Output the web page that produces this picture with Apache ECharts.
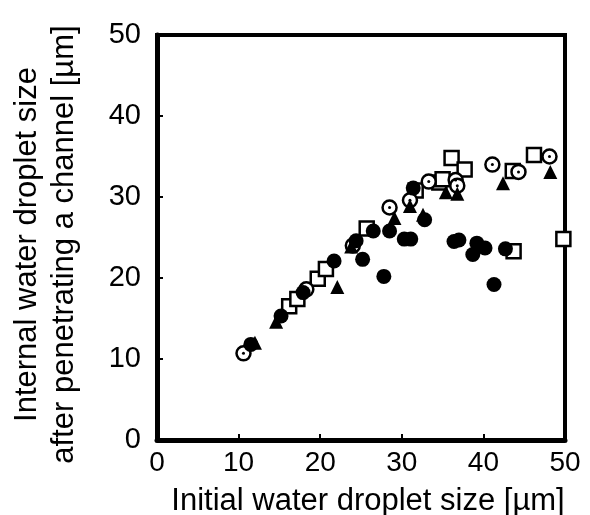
<!DOCTYPE html>
<html>
<head>
<meta charset="utf-8">
<script src="https://cdn.jsdelivr.net/npm/echarts@6/dist/echarts.min.js"></script>
<style>html,body{margin:0;padding:0;background:#fff}#c{width:590px;height:515px}</style>
</head>
<body>
<div id="c"></div>
<script>
const xTicks = [0, 10, 20, 30, 40, 50];
const yTicks = [0, 10, 20, 30, 40, 50];
const xTitle = 'Initial water droplet size [\u00b5m]';
const yTitle = ['Internal water droplet size', 'after penetrating a channel [\u00b5m]'];

const openCircles = [
  [10.6, 10.7], [18.3, 18.6], [24.0, 24.0], [28.5, 28.7], [31.0, 29.6], [33.3, 31.9],
  [36.6, 32.1], [36.8, 31.4], [41.1, 34.0], [44.3, 33.1], [48.1, 35.0]
];
const filledCircles = [
  [11.5, 11.8], [15.2, 15.3], [17.9, 18.2], [21.7, 22.1], [24.4, 24.6], [25.2, 22.3],
  [26.5, 25.8], [27.8, 20.2], [28.5, 25.8], [30.3, 24.8], [31.1, 24.8], [31.4, 31.1],
  [32.8, 27.2], [36.4, 24.5], [37.0, 24.7], [38.7, 22.9], [39.2, 24.3], [40.2, 23.7],
  [41.3, 19.2], [42.7, 23.6]
];
const openSquares = [
  [16.2, 16.5], [17.2, 17.4], [19.7, 19.9], [20.7, 21.1], [25.7, 26.1], [31.7, 30.8],
  [34.6, 31.8], [35.0, 32.2], [36.1, 34.8], [37.7, 33.4], [43.6, 33.2], [43.7, 23.3],
  [46.2, 35.2], [49.8, 24.8]
];
const triangles = [
  [12.0, 12.0], [14.6, 14.6], [22.1, 18.9], [23.8, 23.9], [29.1, 27.4], [31.0, 28.9],
  [32.6, 27.8], [35.4, 30.6], [36.8, 30.4], [42.4, 31.7], [48.2, 33.1]
];

const font = 'Liberation Sans, Arial, sans-serif';
const chart = echarts.init(document.getElementById('c'));
chart.setOption({
  animation: false,
  backgroundColor: '#fff',
  grid: {
    left: 157, right: 25, top: 35, bottom: 75,
    outerBoundsMode: 'none', containLabel: false,
    show: true, borderColor: '#000', borderWidth: 4, backgroundColor: 'transparent'
  },
  xAxis: {
    type: 'value', min: xTicks[0], max: xTicks[xTicks.length - 1], interval: 10,
    name: xTitle, nameLocation: 'middle', nameGap: 46,
    nameTextStyle: { fontFamily: font, fontSize: 31, color: '#000', padding: [0, 0, 0, 14] },
    axisLine: { show: true, lineStyle: { color: '#000', width: 5 } },
    axisTick: { show: true, inside: true, length: 6, lineStyle: { color: '#000', width: 2 } },
    axisLabel: { fontFamily: font, fontSize: 28, color: '#000', margin: 9 },
    splitLine: { show: false }
  },
  yAxis: {
    type: 'value', min: yTicks[0], max: yTicks[yTicks.length - 1], interval: 10,
    name: yTitle.join('\n'), nameLocation: 'middle', nameRotate: 90, nameGap: 74,
    nameTextStyle: { fontFamily: font, fontSize: 31, color: '#000', lineHeight: 37, align: 'center', padding: [0, 14, 0, 0] },
    axisLine: { show: true, lineStyle: { color: '#000', width: 5 } },
    axisTick: { show: true, inside: true, length: 6, lineStyle: { color: '#000', width: 2 } },
    axisLabel: { fontFamily: font, fontSize: 29, color: '#000', margin: 16 },
    splitLine: { show: false }
  },
  series: [
    { type: 'scatter', data: openSquares, symbol: 'rect', symbolSize: 14,
      itemStyle: { color: '#fff', borderColor: '#000', borderWidth: 2.5, opacity: 1 } },
    { type: 'scatter', data: openCircles, symbol: 'circle', symbolSize: 14,
      itemStyle: { color: '#fff', borderColor: '#000', borderWidth: 2.5, opacity: 1 } },
    { type: 'scatter', data: openCircles, symbol: 'circle', symbolSize: 3,
      itemStyle: { color: '#000', opacity: 1 } },
    { type: 'scatter', data: triangles, symbol: 'triangle', symbolSize: 14,
      itemStyle: { color: '#000', opacity: 1 } },
    { type: 'scatter', data: filledCircles, symbol: 'circle', symbolSize: 15,
      itemStyle: { color: '#000', opacity: 1 } }
  ]
});
</script>
</body>
</html>
